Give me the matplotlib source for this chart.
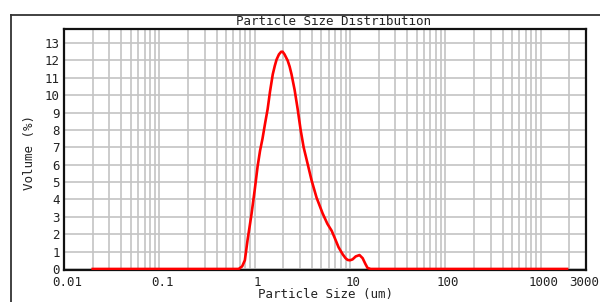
import matplotlib
matplotlib.use("Agg")
import matplotlib.pyplot as plt
from matplotlib.ticker import LogLocator, FixedLocator, NullFormatter
from matplotlib.lines import Line2D
from matplotlib.transforms import ScaledTranslation

# Data
size_um = [0.02, 0.1, 0.5, 0.68, 0.74, 0.79, 0.845, 0.89, 0.93, 1.0, 1.075, 1.14, 1.21,
           1.29, 1.37, 1.45, 1.55, 1.63, 1.70, 1.80, 1.90, 1.97, 2.06, 2.22, 2.33,
           2.44, 2.63, 2.83, 3.04, 3.27, 3.51, 3.96, 4.47, 5.17, 5.80, 6.43,
           6.91, 7.60, 8.38, 9.0, 9.45, 10.0, 10.65, 11.5, 12.6, 13.6, 14.5, 15.3,
           16.5, 100, 1000, 1900]
volume_pct = [0, 0, 0, 0, 0.15, 0.5, 1.7, 2.5, 3.2, 4.5, 5.9, 6.8, 7.5,
              8.4, 9.2, 10.2, 11.2, 11.7, 12.05, 12.35, 12.5, 12.5, 12.35, 12.0, 11.65,
              11.2, 10.3, 9.2, 8.0, 7.0, 6.3, 5.1, 4.1, 3.2, 2.6, 2.2,
              1.8, 1.25, 0.85, 0.62, 0.52, 0.5, 0.55, 0.72, 0.8, 0.62, 0.3, 0.06,
              0, 0, 0, 0]

x_ticks = [0.01, 0.1, 1, 10, 100, 1000, 3000]
x_tick_labels = ["0.01", "0.1", "1", "10", "100", "1000", "3000"]
y_ticks = list(range(0, 14))

mono = "DejaVu Sans Mono"
fig = plt.figure(figsize=(6.0, 3.02), dpi=100)
W, H = 600.0, 302.0

# outer frame lines
fig.add_artist(Line2D([11 / W, 11 / W], [0, 1 - 15 / H], color="#333333", lw=1.3,
                      transform=fig.transFigure))
fig.add_artist(Line2D([11 / W, 1.0], [1 - 15 / H, 1 - 15 / H], color="#333333", lw=1.3,
                      transform=fig.transFigure))

ax = fig.add_axes([64 / W, 1 - 270 / H, (586 - 64) / W, (270 - 29) / H])
ax.set_xscale("log")
ax.set_xlim(0.01, 3000)
ax.set_ylim(-0.06, 13.81)

ax.plot(size_um, volume_pct, color="#ff0000", lw=1.9, zorder=3, solid_joinstyle="round")

ax.xaxis.set_major_locator(FixedLocator(x_ticks))
ax.set_xticklabels(x_tick_labels)
ax.xaxis.set_minor_locator(LogLocator(base=10, subs=[2, 3, 4, 5, 6, 7, 8, 9], numticks=20))
ax.xaxis.set_minor_formatter(NullFormatter())
ax.set_yticks(y_ticks)
ax.set_yticklabels([str(v) for v in y_ticks])

ax.grid(True, which="both", axis="x", color="#c4c4c4", lw=1.2, zorder=1)
ax.grid(True, which="major", axis="y", color="#c4c4c4", lw=1.2, zorder=1)
ax.set_axisbelow(True)

ax.tick_params(axis="both", which="both", length=0, labelsize=9, colors="#222222")
ax.tick_params(axis="x", pad=4)
ax.tick_params(axis="y", pad=3)
for lab in ax.get_xticklabels() + ax.get_yticklabels():
    lab.set_fontfamily(mono)
xlabs = ax.get_xticklabels()
for lab in xlabs[:-1]:
    lab.set_transform(lab.get_transform() + ScaledTranslation(3 / 100, 0, fig.dpi_scale_trans))
xlabs[-1].set_transform(xlabs[-1].get_transform() + ScaledTranslation(-2 / 100, 0, fig.dpi_scale_trans))

for sp in ax.spines.values():
    sp.set_color("#111111")
    sp.set_linewidth(1.6)

fig.text(333 / W, 1 - 28 / H, "Particle Size Distribution", ha="center", va="bottom",
         fontsize=9, family=mono, color="#222222")
fig.text(30 / W, 1 - 153 / H, "Volume (%)", ha="center", va="center", rotation=90,
         fontsize=9, family=mono, color="#222222")
fig.text(325 / W, 1 - 288 / H, "Particle Size (um)", ha="center", va="top",
         fontsize=9, family=mono, color="#222222")

fig.savefig("out.png", dpi=100)
